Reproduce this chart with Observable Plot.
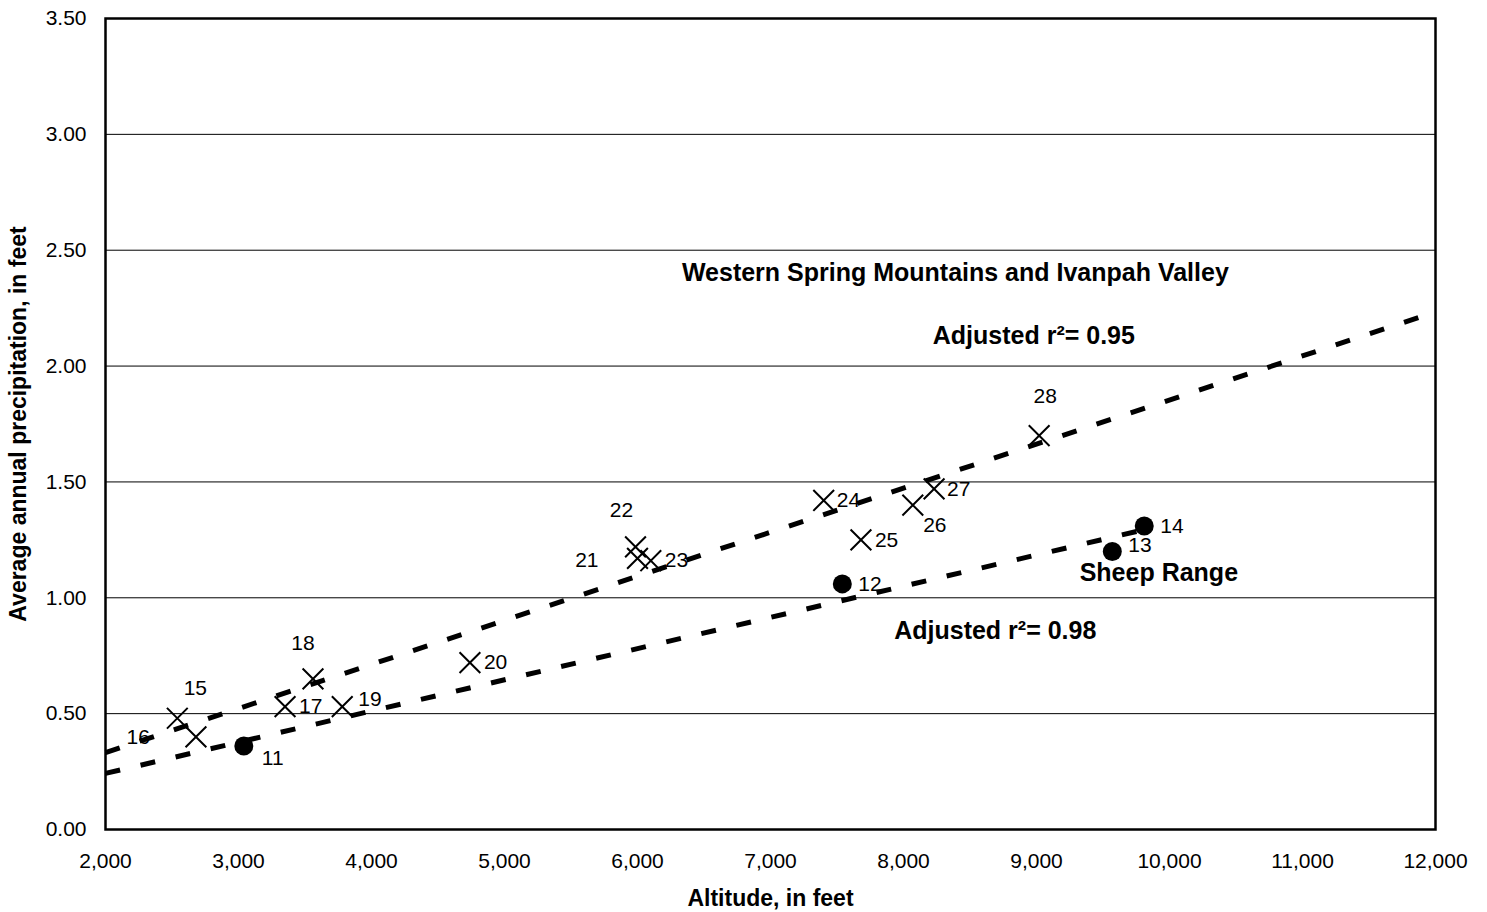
<!DOCTYPE html>
<html>
<head>
<meta charset="utf-8">
<script src="https://cdn.jsdelivr.net/npm/d3@7"></script>
<script src="https://cdn.jsdelivr.net/npm/@observablehq/plot@0.6"></script>
<style>
  html, body { margin: 0; padding: 0; background: #fff; }
</style>
</head>
<body>
<div id="chart"></div>
<script>
// Western Spring Mountains and Ivanpah Valley stations (X markers)
const westIds = [15, 16, 17, 18, 19, 20, 21, 22, 23, 24, 25, 26, 27, 28];
const westAltitude = [2540, 2680, 3350, 3560, 3780, 4740, 6000, 5985, 6100, 7400, 7680, 8070, 8230, 9020];
const westPrecip = [0.48, 0.40, 0.53, 0.65, 0.53, 0.72, 1.17, 1.22, 1.16, 1.42, 1.25, 1.40, 1.47, 1.70];

// Sheep Range stations (filled circles)
const sheepIds = [11, 12, 13, 14];
const sheepAltitude = [3040, 7540, 9570, 9810];
const sheepPrecip = [0.36, 1.06, 1.20, 1.31];

// Fitted regression lines (end points)
const westFitAltitude = [2000, 12000];
const westFitPrecip = [0.332, 2.234];
const sheepFitAltitude = [2000, 9900];
const sheepFitPrecip = [0.242, 1.306];

// Axis ticks
const xTicks = [2000, 3000, 4000, 5000, 6000, 7000, 8000, 9000, 10000, 11000, 12000];
const yTicks = [0, 0.5, 1.0, 1.5, 2.0, 2.5, 3.0, 3.5];

// Annotations
const annotationText = ["Western Spring Mountains and Ivanpah Valley", "Adjusted r\u00B2= 0.95", "Sheep Range", "Adjusted r\u00B2= 0.98"];
const annotationAltitude = [8390, 8980, 9920, 8690];
const annotationPrecip = [2.40, 2.13, 1.105, 0.855];

// label placement (pixel offsets from marker, and text anchor)
const labelPlacement = {
  11: [18, 12, "start"], 12: [16, 0, "start"], 13: [16, -6, "start"], 14: [16, 0, "start"],
  15: [18, -30, "middle"], 16: [-46, 0, "end"], 17: [14, 0, "start"], 18: [-10, -36, "middle"],
  19: [16, -7, "start"], 20: [14, 0, "start"], 21: [-39, 2, "end"], 22: [-14, -37, "middle"],
  23: [14, 0, "start"], 24: [13, 0, "start"], 25: [14, 0, "start"], 26: [22, 20, "middle"],
  27: [13, 0, "start"], 28: [6, -39, "middle"]
};

const west = westIds.map((id, i) => ({id, x: westAltitude[i], y: westPrecip[i]}));
const sheep = sheepIds.map((id, i) => ({id, x: sheepAltitude[i], y: sheepPrecip[i]}));
const westFit = westFitAltitude.map((x, i) => ({x, y: westFitPrecip[i]}));
const sheepFit = sheepFitAltitude.map((x, i) => ({x, y: sheepFitPrecip[i]}));
const annotations = annotationText.map((t, i) => ({t, x: annotationAltitude[i], y: annotationPrecip[i]}));
const allPoints = [...sheep, ...west];

const labelMarks = allPoints.map(d => {
  const [dx, dy, anchor] = labelPlacement[d.id];
  return Plot.text([d], {x: "x", y: "y", text: d => String(d.id), dx, dy, textAnchor: anchor, fontSize: 21, fill: "black"});
});

const chart = Plot.plot({
  width: 1487,
  height: 912,
  marginLeft: 105,
  marginRight: 52,
  marginTop: 18,
  marginBottom: 83,
  style: {fontFamily: "'Liberation Sans', Arial, Helvetica, sans-serif", background: "white", color: "black"},
  x: {domain: [2000, 12000]},
  y: {domain: [0, 3.5]},
  marks: [
    Plot.gridY(yTicks, {stroke: "black", strokeOpacity: 1, strokeWidth: 1}),
    Plot.axisY(yTicks, {tickSize: 0, tickPadding: 19, fontSize: 21, tickFormat: d3.format(".2f"), label: null}),
    Plot.axisX(xTicks, {tickSize: 0, tickPadding: 24, fontSize: 21, tickFormat: d3.format(","), label: null}),
    Plot.line(westFit, {x: "x", y: "y", stroke: "black", strokeWidth: 5, strokeDasharray: "15,21", strokeLinecap: "butt"}),
    Plot.line(sheepFit, {x: "x", y: "y", stroke: "black", strokeWidth: 5, strokeDasharray: "15,21", strokeLinecap: "butt"}),
    Plot.dot(west, {x: "x", y: "y", symbol: "times", r: 9.5, stroke: "black", strokeWidth: 2}),
    Plot.dot(sheep, {x: "x", y: "y", r: 9.5, fill: "black", stroke: "none"}),
    ...labelMarks,
    Plot.text(annotations, {x: "x", y: "y", text: "t", fontSize: 25, fontWeight: "bold", fill: "black"}),
    Plot.text(["Altitude, in feet"], {frameAnchor: "bottom", dy: 76, fontSize: 23, fontWeight: "bold", fill: "black"}),
    Plot.text(["Average annual precipitation, in feet"], {frameAnchor: "left", textAnchor: "middle", dx: -87, rotate: -90, fontSize: 23, fontWeight: "bold", fill: "black"}),
    Plot.frame({stroke: "black", strokeWidth: 2.5})
  ]
});

document.getElementById("chart").appendChild(chart);
</script>
</body>
</html>
